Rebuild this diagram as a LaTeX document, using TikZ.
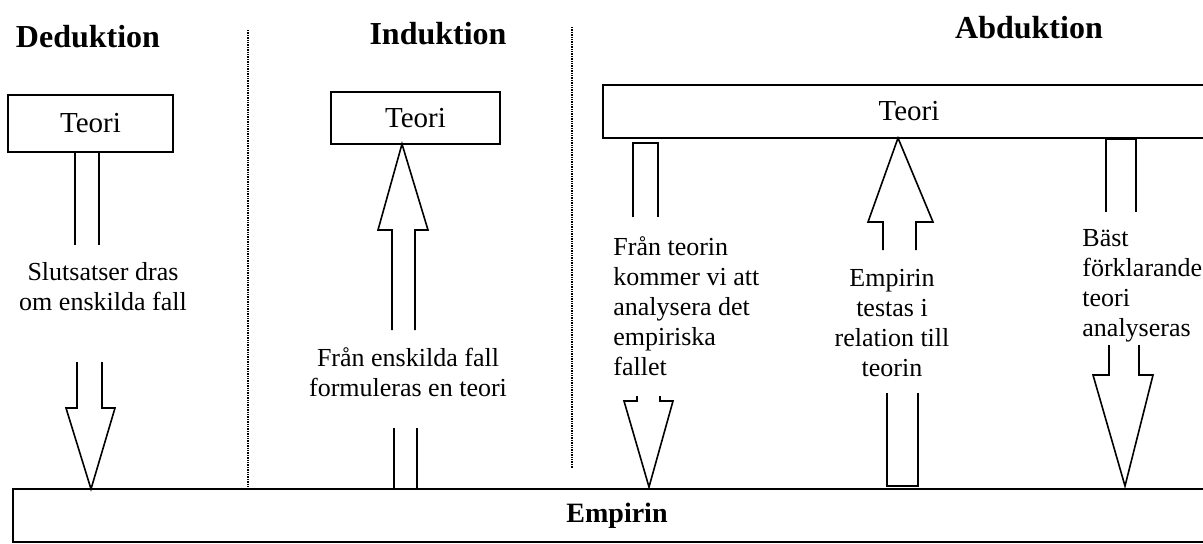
\documentclass[tikz,border=0pt]{standalone}
\usepackage{fontspec}
\setmainfont{Liberation Serif}
\usepackage{tikz}
\usetikzlibrary{positioning}
\usepackage{xcolor}

\tikzset{
 teoribox/.style={draw, line width=0.8pt, rectangle, inner sep=0pt, font=\fontsize{14.5}{16}\selectfont},
 heading/.style={font=\fontsize{16}{18}\selectfont\bfseries, inner sep=0pt},
 txt/.style={font=\fontsize{13}{15}\selectfont, inner sep=0pt},
 fatarrow/.style={draw, line width=0.8pt, line join=miter},
 divider/.style={line width=0.7pt, dash pattern=on 0.7pt off 0.5pt}
}

\begin{document}
\begin{tikzpicture}[x=0.5pt,y=-0.5pt]
 \useasboundingbox (0,0) rectangle (1203,543);

 % headings of the three columns
 \node[heading] (Ded) at (88,37) {Deduktion};
 \node[heading] (Ind) at (438,34) {Induktion};
 \node[heading] (Abd) at (1029,28) {Abduktion};

 % dotted separators between the columns
 \draw[divider] (248,30) -- (248,490);
 \draw[divider] (572,27) -- (572,468);

 % theory boxes
 \node[teoribox, minimum width=82.5pt, minimum height=28.5pt] (DedTeori) at (90.5,123.5) {Teori};
 \node[teoribox, minimum width=84.5pt, minimum height=26pt] (IndTeori) at (415.5,118) {Teori};
 \node[teoribox, minimum width=306pt, minimum height=26.5pt] (AbdTeori) at (909,111.5) {Teori};

 % the empirical box at the bottom
 \node[teoribox, minimum width=604pt, minimum height=26.5pt, font=\fontsize{14}{16}\selectfont\bfseries] (Empirin) at (617,515.5) {Empirin};

 % Deduktion: teori -> empiri
 \draw[fatarrow] (75,245) -- (75,152) -- (99,152) -- (99,245);
 \node[txt, align=center] (DedText) at (103,287) {Slutsatser dras\\om enskilda fall};
 \draw[fatarrow] (77,362) -- (77,408) -- (66,408) -- (91,489) -- (115,408) -- (102,408) -- (102,362);

 % Induktion: empiri -> teori
 \draw[fatarrow] (394,428) -- (394,489) -- (417,489) -- (417,428);
 \node[txt, align=center] (IndText) at (408,372) {Från enskilda fall\\formuleras en teori};
 \draw[fatarrow] (392,330) -- (392,230) -- (378,230) -- (402,144) -- (428,230) -- (415,230) -- (415,330);

 % Abduktion: three arrows
 \draw[fatarrow] (633,217) -- (633,143) -- (658,143) -- (658,217);
 \node[txt, align=left, anchor=west] (AbdText1) at (613,306)
  {Från teorin\\kommer vi att\\analysera det\\empiriska\\fallet};
 \draw[fatarrow] (637,396) -- (637,401) -- (624,401) -- (649,487) -- (673,401) -- (660,401) -- (660,396);

 \draw[fatarrow] (883,250) -- (883,222) -- (868,222) -- (898,138) -- (933,222) -- (916,222) -- (916,250);
 \node[txt, align=center] (AbdText2) at (892,323)
  {Empirin\\testas i\\relation till\\teorin};
 \draw[fatarrow] (887,393) -- (887,486) -- (918,486) -- (918,393);

 \draw[fatarrow] (1106,212) -- (1106,139) -- (1136,139) -- (1136,212);
 \node[txt, align=left, anchor=west] (AbdText3) at (1082,286)
  {Bäst\\förklarande\\teori\\analyseras};
 \draw[fatarrow] (1109,345) -- (1109,375) -- (1093,375) -- (1125,486) -- (1153,375) -- (1139,375) -- (1139,345);

\end{tikzpicture}
\end{document}
